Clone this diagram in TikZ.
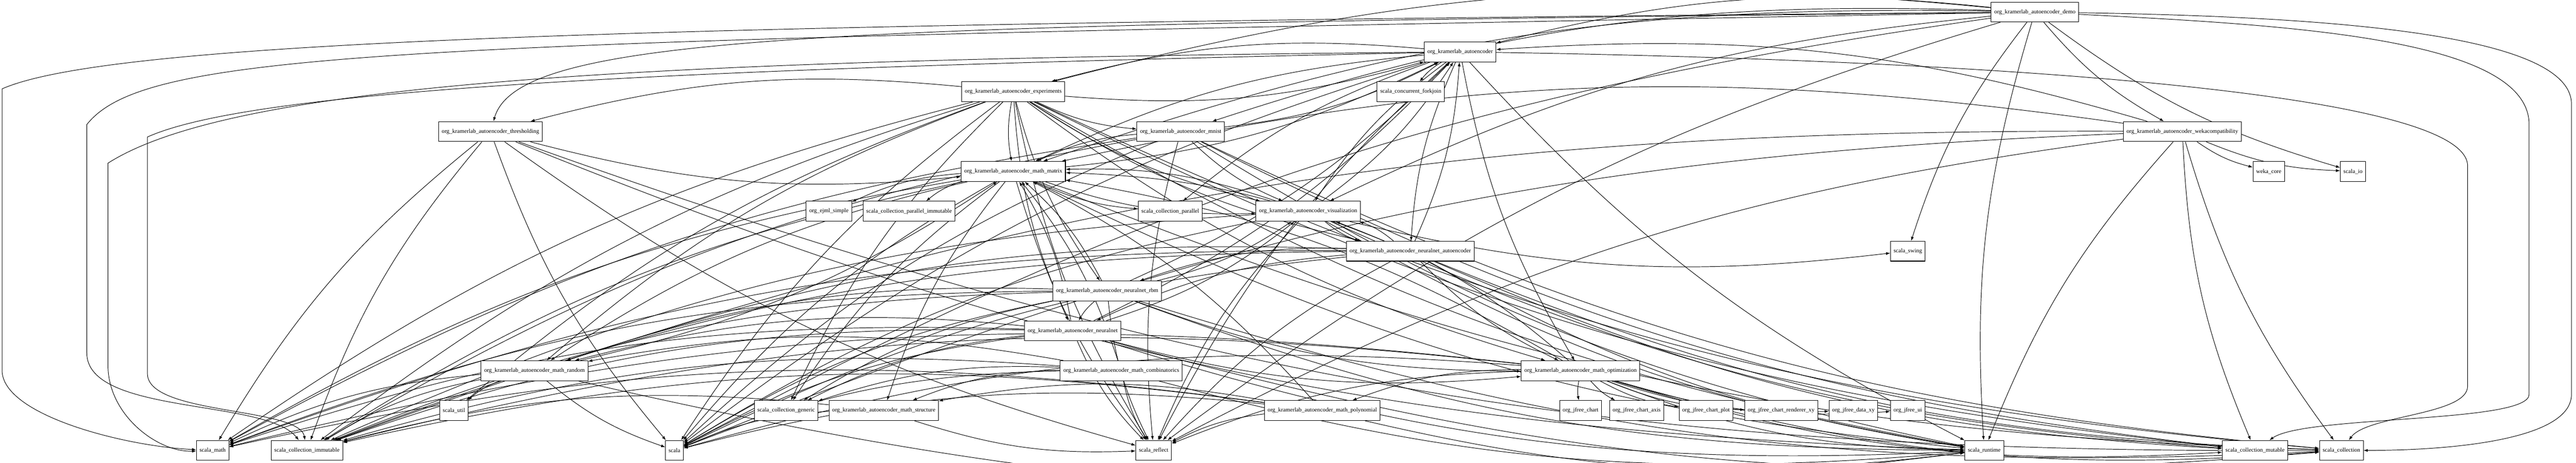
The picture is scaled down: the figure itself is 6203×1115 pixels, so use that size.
\documentclass[tikz,border=0pt]{standalone}
\usepackage{fontspec}
\setmainfont{Liberation Serif}
\usetikzlibrary{arrows.meta,backgrounds}
\tikzset{>={Latex[length=1pt,width=.7pt]}}
\tikzset{
  pkg/.style={draw, line width=.13pt, fill=white, minimum height=4.8pt, inner xsep=.75pt, inner ysep=0pt, font=\fontsize{1.4pt}{1.6pt}\selectfont},
  dep/.style={->, line width=.12pt, bend right=10},
  longdep/.style={->, line width=.12pt}
}

\begin{document}
\begin{tikzpicture}[x=.1pt, y=.1pt]
  \useasboundingbox (0,0) rectangle (6203,-1115);
  % packages, one row per rank
  \node[pkg] (demo) at (4900,-29) {org\_kramerlab\_autoencoder\_demo};
  \node[pkg] (ae) at (3516,-125) {org\_kramerlab\_autoencoder};
  \node[pkg] (exper) at (2440,-221) {org\_kramerlab\_autoencoder\_experiments};
  \node[pkg] (forkjoin) at (3397,-221) {scala\_concurrent\_forkjoin};
  \node[pkg] (thresh) at (1181,-317) {org\_kramerlab\_autoencoder\_thresholding};
  \node[pkg] (mnist) at (2843,-317) {org\_kramerlab\_autoencoder\_mnist};
  \node[pkg] (weka) at (5255,-317) {org\_kramerlab\_autoencoder\_wekacompatibility};
  \node[pkg] (matrix) at (2440,-413) {org\_kramerlab\_autoencoder\_math\_matrix};
  \node[pkg] (wekacore) at (5463,-413) {weka\_core};
  \node[pkg] (scalaio) at (5666,-413) {scala\_io};
  \node[pkg] (ejml) at (1996,-509) {org\_ejml\_simple};
  \node[pkg] (parimm) at (2189,-509) {scala\_collection\_parallel\_immutable};
  \node[pkg] (par) at (2818,-509) {scala\_collection\_parallel};
  \node[pkg] (vis) at (3150,-509) {org\_kramerlab\_autoencoder\_visualization};
  \node[pkg] (nnae) at (3396,-605) {org\_kramerlab\_autoencoder\_neuralnet\_autoencoder};
  \node[pkg] (swing) at (4594,-605) {scala\_swing};
  \node[pkg] (rbm) at (2666,-701) {org\_kramerlab\_autoencoder\_neuralnet\_rbm};
  \node[pkg] (nn) at (2583,-797) {org\_kramerlab\_autoencoder\_neuralnet};
  \node[pkg] (random) at (1287,-893) {org\_kramerlab\_autoencoder\_math\_random};
  \node[pkg] (combin) at (2700,-893) {org\_kramerlab\_autoencoder\_math\_combinatorics};
  \node[pkg] (optim) at (3806,-893) {org\_kramerlab\_autoencoder\_math\_optimization};
  \node[pkg] (util) at (1093,-989) {scala\_util};
  \node[pkg] (generic) at (1893,-989) {scala\_collection\_generic};
  \node[pkg] (struct) at (2128,-989) {org\_kramerlab\_autoencoder\_math\_structure};
  \node[pkg] (poly) at (3184,-989) {org\_kramerlab\_autoencoder\_math\_polynomial};
  \node[pkg] (jchart) at (3806,-989) {org\_jfree\_chart};
  \node[pkg] (jaxis) at (3941,-989) {org\_jfree\_chart\_axis};
  \node[pkg] (jplot) at (4108,-989) {org\_jfree\_chart\_plot};
  \node[pkg] (jrend) at (4289,-989) {org\_jfree\_chart\_renderer\_xy};
  \node[pkg] (jdata) at (4463,-989) {org\_jfree\_data\_xy};
  \node[pkg] (jui) at (4594,-989) {org\_jfree\_ui};
  \node[pkg] (smath) at (512,-1085) {scala\_math};
  \node[pkg] (simm) at (739,-1085) {scala\_collection\_immutable};
  \node[pkg] (scala) at (1624,-1085) {scala};
  \node[pkg] (sreflect) at (2778,-1085) {scala\_reflect};
  \node[pkg] (sruntime) at (4778,-1085) {scala\_runtime};
  \node[pkg] (smut) at (5430,-1085) {scala\_collection\_mutable};
  \node[pkg] (scoll) at (5638,-1085) {scala\_collection};
  % dependencies
  \begin{pgfonlayer}{background}
  \foreach \t in {ae,exper,mnist,weka,matrix,vis,swing,scalaio,scala,sreflect,sruntime}
    \draw[dep] (demo) to (\t);
  \foreach \t in {forkjoin,exper,matrix,vis,nnae,optim,par,scala,sreflect,sruntime}
    \draw[dep] (ae) to (\t);
  \foreach \t in {ae,thresh,mnist,matrix,vis,nnae,rbm,nn,optim,random,util,generic,smath,simm,scala,sreflect,sruntime,smut,scoll}
    \draw[dep] (exper) to (\t);
  \foreach \t in {matrix,smath,simm,scala,sreflect,sruntime,scoll}
    \draw[dep] (thresh) to (\t);
  \foreach \t in {ae,matrix,vis,smath,simm,scala,sreflect,sruntime,smut,scoll}
    \draw[dep] (mnist) to (\t);
  \foreach \t in {ae,matrix,wekacore,scalaio,simm,scala,sreflect,sruntime,smut,scoll}
    \draw[dep] (weka) to (\t);
  \foreach \t in {ae,ejml,parimm,par,vis,random,struct,generic,smath,simm,scala,sreflect,sruntime,scoll}
    \draw[dep] (matrix) to (\t);
  \foreach \t in {ae,matrix,nnae,swing,simm,scala,sreflect,sruntime,smut}
    \draw[dep] (vis) to (\t);
  \foreach \t in {ae,vis,matrix,rbm,nn,optim,random,smath,simm,scala,sreflect,sruntime,smut,scoll}
    \draw[dep] (nnae) to (\t);
  \foreach \t in {ae,vis,matrix,nn,optim,random,generic,smath,simm,scala,sreflect,sruntime,scoll}
    \draw[dep] (rbm) to (\t);
  \foreach \t in {ae,vis,matrix,optim,random,generic,smath,simm,scala,sreflect,sruntime,scoll}
    \draw[dep] (nn) to (\t);
  \foreach \t in {matrix,util,smath,simm,scala,sruntime}
    \draw[dep] (random) to (\t);
  \foreach \t in {matrix,random,struct,generic,simm,scala,sreflect,sruntime}
    \draw[dep] (combin) to (\t);
  \foreach \t in {matrix,vis,poly,jchart,jaxis,jplot,jrend,jdata,jui,smath,simm,scala,sreflect,sruntime,smut,scoll}
    \draw[dep] (optim) to (\t);
  \foreach \t in {matrix,struct,smath,simm,scala,sreflect,sruntime}
    \draw[dep] (poly) to (\t);
  \foreach \t in {scala,sreflect,simm}
    \draw[dep] (struct) to (\t);
  % long edges round the margins
  \draw[longdep] (demo) .. controls (2000,-60) and (1250,-80) .. (thresh);
  \draw[longdep] (demo) .. controls (1600,-57) and (275,-96) .. (5,-214) -- (5,-892)
    .. controls (5,-1000) and (300,-1075) .. (smath);
  \draw[longdep] (demo) .. controls (1000,-102) and (357,-114) .. (209,-300) -- (209,-850)
    .. controls (209,-1000) and (640,-960) .. (simm);
  \draw[longdep] (ae) .. controls (1600,-143) and (571,-195) .. (260,-393) -- (260,-880)
    .. controls (260,-1000) and (380,-1090) .. (smath);
  \draw[longdep] (ae) .. controls (1600,-166) and (612,-215) .. (355,-330) -- (355,-900)
    .. controls (355,-1000) and (720,-980) .. (simm);
  \draw[longdep] (demo) .. controls (5600,-40) and (6190,-80) .. (6192,-250) -- (6192,-950)
    .. controls (6192,-1060) and (5900,-1085) .. (scoll);
  \draw[longdep] (demo) .. controls (5500,-60) and (6090,-90) .. (6090,-300) -- (6090,-950)
    .. controls (6090,-1020) and (5550,-1000) .. (smut);
  \draw[longdep] (ae) .. controls (4500,-140) and (5942,-200) .. (5942,-400) -- (5942,-930)
    .. controls (5942,-1000) and (5700,-1000) .. (scoll);
  \end{pgfonlayer}
\end{tikzpicture}
\end{document}
